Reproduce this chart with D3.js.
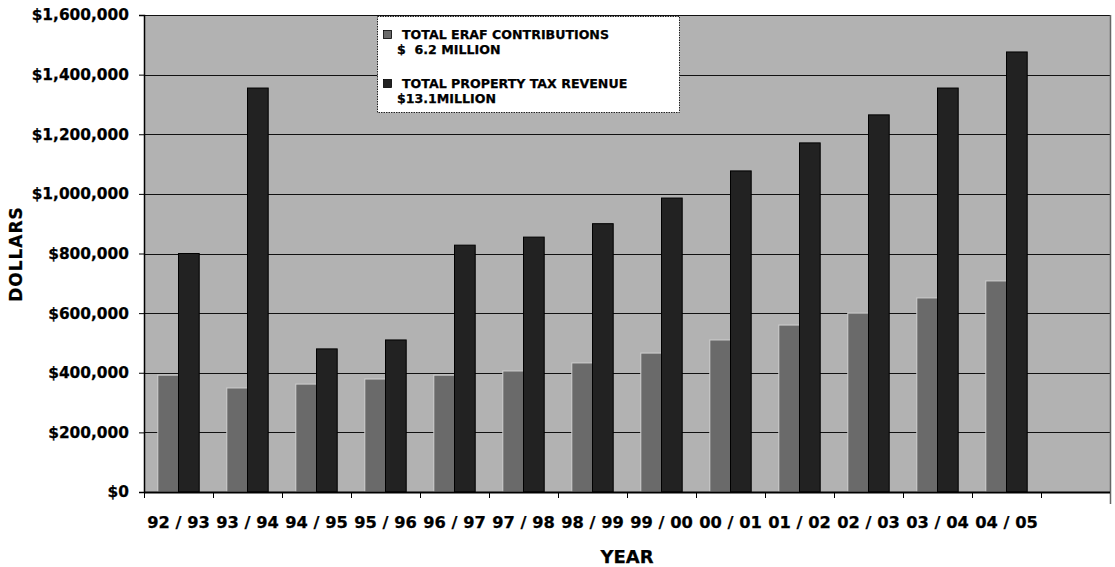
<!DOCTYPE html>
<html>
<head>
<meta charset="utf-8">
<script src="https://cdn.jsdelivr.net/npm/d3@7"></script>
<style>
  html, body { margin: 0; padding: 0; background: #fff; }
  svg text { font-family: "DejaVu Sans", sans-serif; font-weight: bold; fill: #000; stroke: #000; stroke-width: 0.25px; }
</style>
</head>
<body>
<svg id="chart" width="1115" height="567"></svg>
<script>
const categories = ["92 / 93","93 / 94","94 / 95","95 / 96","96 / 97","97 / 98","98 / 99","99 / 00","00 / 01","01 / 02","02 / 03","03 / 04","04 / 05"];
const eraf = [392000, 349000, 362000, 379000, 392000, 406000, 433000, 466000, 510000, 560000, 600000, 651000, 708000];
const propertyTax = [800000, 1355000, 480000, 510000, 828000, 855000, 900000, 986000, 1077000, 1171000, 1265000, 1355000, 1476000];
const yTicks = [0, 200000, 400000, 600000, 800000, 1000000, 1200000, 1400000, 1600000];
const legendLines = [
  ["TOTAL ERAF CONTRIBUTIONS", "$  6.2 MILLION"],
  ["TOTAL PROPERTY TAX REVENUE", "$13.1MILLION"]
];
const seriesKeys = ["eraf", "tax"];

const svg = d3.select("#chart");
const m = {left: 144, right: 1110, top: 15, bottom: 492};

const slots = categories.concat([""]);
const x0 = d3.scaleBand().domain(slots).range([m.left, m.right]).paddingInner(0).paddingOuter(0);
const bw = x0.bandwidth();
const x1 = d3.scaleBand().domain(seriesKeys).range([bw * 0.2, bw * 0.8]).padding(0);
const y = d3.scaleLinear().domain([0, 1600000]).range([m.bottom, m.top]);

const colors = {eraf: "#6a6a6a", tax: "#222222"};

// plot background
svg.append("rect")
  .attr("x", m.left).attr("y", m.top)
  .attr("width", m.right - m.left).attr("height", m.bottom - m.top)
  .attr("fill", "#b2b2b2");

// gridlines
svg.append("g").selectAll("line")
  .data(yTicks.filter(d => d > 0))
  .join("line")
  .attr("x1", m.left).attr("x2", m.right)
  .attr("y1", d => Math.round(y(d)) + 0.5).attr("y2", d => Math.round(y(d)) + 0.5)
  .attr("stroke", "#111").attr("stroke-width", 1.2);

// right border
svg.append("line")
  .attr("x1", m.right + 0.5).attr("x2", m.right + 0.5)
  .attr("y1", m.top).attr("y2", m.bottom + 12)
  .attr("stroke", "#666").attr("stroke-width", 1.5);

// bars
const data = categories.map((c, i) => ({cat: c, eraf: eraf[i], tax: propertyTax[i]}));
const groups = svg.append("g").selectAll("g")
  .data(data)
  .join("g")
  .attr("transform", d => `translate(${x0(d.cat)},0)`);
groups.selectAll("rect")
  .data(d => seriesKeys.map(k => ({key: k, value: d[k]})))
  .join("rect")
  .attr("x", d => x1(d.key))
  .attr("width", x1.bandwidth())
  .attr("y", d => y(d.value))
  .attr("height", d => y(0) - y(d.value))
  .attr("fill", d => colors[d.key])
  .attr("stroke", d => d.key === "eraf" ? "#d0d0d0" : "#000")
  .attr("stroke-width", 1);

// y axis
const yAxis = d3.axisLeft(y).tickValues(yTicks).tickSize(5).tickPadding(10)
  .tickFormat(d => "$" + d3.format(",")(d));
const gy = svg.append("g").attr("transform", `translate(${m.left},0)`).call(yAxis);
gy.select(".domain").attr("stroke", "#000").attr("stroke-width", 1.5);
gy.selectAll(".tick line").attr("stroke", "#000");
gy.selectAll("text").style("font-size", "15.4px").attr("fill", "#000");

// x axis line
svg.append("line")
  .attr("x1", m.left).attr("x2", m.right)
  .attr("y1", m.bottom + 0.5).attr("y2", m.bottom + 0.5)
  .attr("stroke", "#000").attr("stroke-width", 2);

// x boundary ticks
svg.append("g").selectAll("line")
  .data(slots)
  .join("line")
  .attr("x1", d => x0(d) + 0.5).attr("x2", d => x0(d) + 0.5)
  .attr("y1", m.bottom).attr("y2", m.bottom + 6)
  .attr("stroke", "#000");

// x labels
const xAxis = d3.axisBottom(x0).tickValues(categories).tickSize(0).tickPadding(24);
const gx = svg.append("g").attr("transform", `translate(0,${m.bottom})`).call(xAxis);
gx.select(".domain").remove();
gx.selectAll("text").style("font-size", "16.3px").attr("fill", "#000");

// axis titles
svg.append("text")
  .attr("transform", `translate(22,254) rotate(-90)`)
  .attr("text-anchor", "middle")
  .style("font-size", "17px").style("letter-spacing", "1px")
  .text("DOLLARS");
svg.append("text")
  .attr("x", 627).attr("y", 563)
  .attr("text-anchor", "middle")
  .style("font-size", "18px")
  .text("YEAR");

// legend
const lg = svg.append("g");
lg.append("rect")
  .attr("x", 377.5).attr("y", 16.5).attr("width", 302).attr("height", 96)
  .attr("fill", "#fff").attr("stroke", "#222").attr("stroke-width", 1)
  .attr("stroke-dasharray", "1.5,1");
const legendY = [39, 88];
seriesKeys.forEach((k, i) => {
  lg.append("rect")
    .attr("x", 383.5).attr("y", legendY[i] - 8.5).attr("width", 8).attr("height", 8)
    .attr("fill", colors[k]).attr("stroke", "#000").attr("stroke-width", 0.8);
  lg.append("text")
    .attr("x", 402).attr("y", legendY[i])
    .style("font-size", "12.6px")
    .text(legendLines[i][0]);
  lg.append("text")
    .attr("x", 397).attr("y", legendY[i] + 15)
    .style("font-size", "12.6px")
    .style("white-space", "pre")
    .text(legendLines[i][1]);
});
</script>
</body>
</html>
